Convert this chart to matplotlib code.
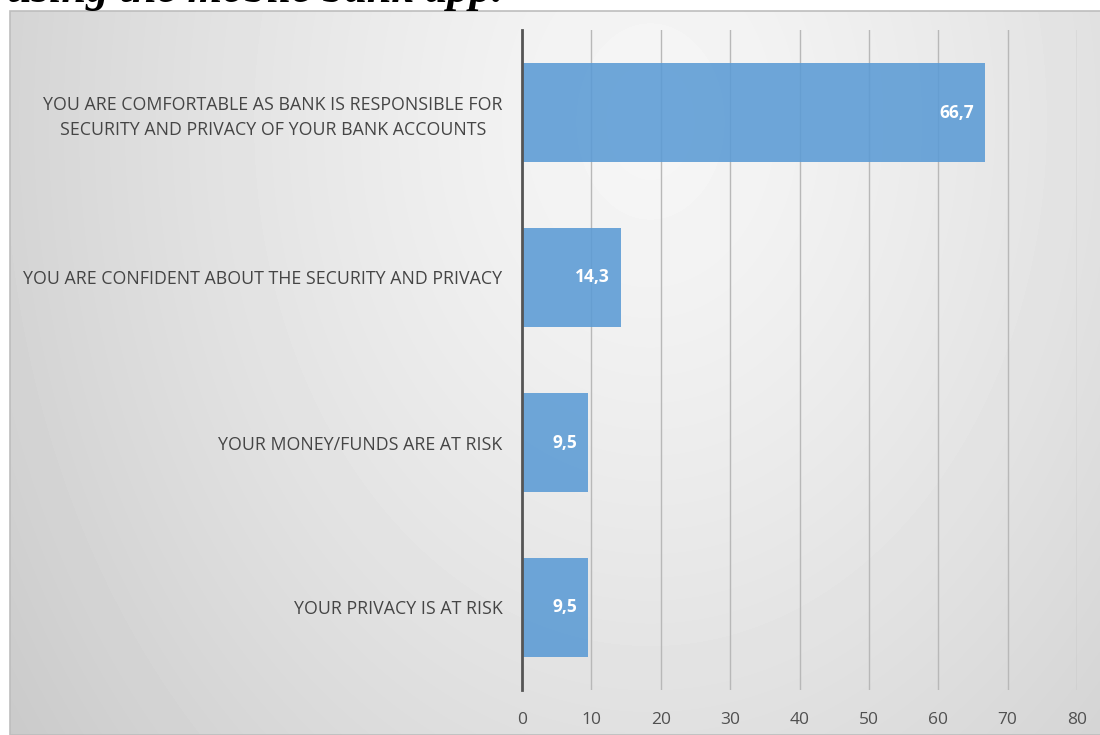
import numpy as np
import matplotlib
matplotlib.use("Agg")
import matplotlib.pyplot as plt

plt.rcParams.update({"font.family": ["Open Sans", "DejaVu Sans"]})

# survey answers, listed top to bottom as drawn
answers = ["YOU ARE COMFORTABLE AS BANK IS RESPONSIBLE FOR\nSECURITY AND PRIVACY OF YOUR BANK ACCOUNTS",
           "YOU ARE CONFIDENT ABOUT THE SECURITY AND PRIVACY",
           "YOUR MONEY/FUNDS ARE AT RISK",
           "YOUR PRIVACY IS AT RISK"]
shares = [66.7, 14.3, 9.5, 9.5]
xticks = [0, 10, 20, 30, 40, 50, 60, 70, 80]

W, H = 1100, 735
fig = plt.figure(figsize=(W / 100, H / 100), dpi=100)

# chart area background: soft radial grey gradient inside a thin frame
bg = fig.add_axes([10 / W, 0, 1 - 10 / W, 1 - 11 / H])
yy, xx = np.mgrid[0:724, 0:1090]
r = np.sqrt(((xx - 640) / 680.0) ** 2 + ((yy - 110) / 900.0) ** 2)
r = np.clip(r, 0, 1.25) / 1.25
shade = 0.965 - 0.19 * r ** 1.3
bg.imshow(shade, cmap="gray", vmin=0, vmax=1, aspect="auto", interpolation="bilinear")
bg.set_axis_off()
fig.patches.append(plt.Rectangle((10 / W, 0), 1, 1 - 11 / H, transform=fig.transFigure,
                                 fill=False, ec="#bdbdbd", lw=1.2))

# tail end of the heading above the chart box
fig.text(7 / W, 1 - 2 / H, "using the mobile bank app.", family="Liberation Serif",
         weight="bold", style="italic", fontsize=32, va="baseline", ha="left")

ax = fig.add_axes([522 / W, 1 - 690 / H, (1077 - 522) / W, 660 / H])
ax.set_facecolor("none")
pos = np.arange(len(answers))
bars = ax.barh(pos, shares, height=0.6, color="#5B9BD5", alpha=0.88, zorder=3)
ax.set_ylim(len(answers) - 0.5, -0.5)
ax.set_xlim(0, 80)
ax.set_xticks(xticks)
ax.set_yticks(pos)
ax.set_yticklabels(answers, multialignment="center", linespacing=1.45)
ax.tick_params(axis="y", length=0, pad=14, labelsize=12.8, labelcolor="#454545")
ax.tick_params(axis="x", length=0, pad=16, labelsize=12.5, labelcolor="#505050")
ax.grid(axis="x", color="#b8b8b8", lw=1, zorder=1)
for s in ["top", "right", "bottom"]:
    ax.spines[s].set_visible(False)
ax.spines["left"].set_color("#555555")
ax.spines["left"].set_linewidth(2)
ax.spines["left"].set_zorder(4)

for b, v in zip(bars, shares):
    ax.annotate(f"{v:.1f}".replace(".", ","), (v, b.get_y() + b.get_height() / 2),
                xytext=(-8, 0), textcoords="offset points", ha="right", va="center",
                color="white", fontsize=12.5, weight="bold", zorder=5)

fig.savefig("out.png", dpi=100)
